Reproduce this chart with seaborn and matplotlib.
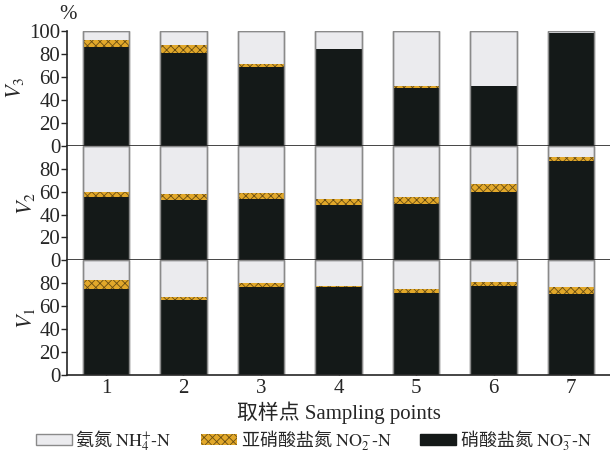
import matplotlib
matplotlib.use('Agg')
import matplotlib.pyplot as plt
from matplotlib.patches import Patch
import pandas as pd
import seaborn as sns

# sampling points
points = ['1', '2', '3', '4', '5', '6', '7']

# percentage of each nitrogen form (%)
v3_no3 = [86, 81, 69, 84, 50.5, 52, 98]
v3_no2 = [6, 6.5, 2.5, 0.3, 1.2, 0.3, 0.5]
v3_nh4 = [8, 12.5, 28.5, 15.7, 48.3, 47.7, 1.5]

v2_no3 = [55, 52.5, 53.5, 48, 49, 59.5, 86.5]
v2_no2 = [5, 5.5, 5.5, 5.5, 6, 7, 3.5]
v2_nh4 = [40, 42, 41, 46.5, 45, 33.5, 10]

v1_no3 = [75.5, 65.5, 76.5, 77, 71.5, 78, 70.5]
v1_no2 = [7, 3, 3.5, 0.3, 3.5, 3, 6]
v1_nh4 = [17.5, 31.5, 20, 22.7, 25, 19, 23.5]

panels = [
    (r'$\mathit{V}_3$', v3_no3, v3_no2, v3_nh4),
    (r'$\mathit{V}_2$', v2_no3, v2_no2, v2_nh4),
    (r'$\mathit{V}_1$', v1_no3, v1_no2, v1_nh4),
]

labels = [r'氨氮 $\mathrm{NH_4^{+}}\text{-}\mathrm{N}$',
          r'亚硝酸盐氮 $\mathrm{NO_2^{-}}\text{-}\mathrm{N}$',
          r'硝酸盐氮 $\mathrm{NO_3^{-}}\text{-}\mathrm{N}$']
c_nh4 = '#ebebee'
c_no2 = '#e2a82a'
c_no3 = '#141918'
edge = '#8a8a8a'

sns.set_style('ticks')
plt.rcParams['font.family'] = ['Liberation Serif', 'Noto Sans CJK SC']
plt.rcParams['mathtext.fontset'] = 'stix'
plt.rcParams['hatch.linewidth'] = 0.6

fig, axes = plt.subplots(3, 1, figsize=(6.1, 4.62), dpi=100, sharex=True)
fig.subplots_adjust(left=0.11, right=1.0, top=0.933, bottom=0.188, hspace=0)

for i, (ax, (name, no3, no2, nh4)) in enumerate(zip(axes, panels)):
    df = pd.DataFrame({'point': points, 'NO3': no3, 'NO2': no2, 'NH4': nh4})
    df['top_no2'] = df['NO3'] + df['NO2']
    df['total'] = df['top_no2'] + df['NH4']
    sns.barplot(data=df, x='point', y='total', color=c_nh4, saturation=1,
                width=0.6, edgecolor=edge, linewidth=1.0, ax=ax)
    sns.barplot(data=df, x='point', y='top_no2', color=c_no2, saturation=1,
                width=0.6, edgecolor='#6b4e12', linewidth=0, hatch='xxxx', ax=ax)
    sns.barplot(data=df, x='point', y='NO3', color=c_no3, saturation=1,
                width=0.6, edgecolor=c_no3, linewidth=0, ax=ax)
    # outline over the whole bar
    sns.barplot(data=df, x='point', y='total', fill=False, width=0.6,
                edgecolor=edge, linewidth=1.0, ax=ax)

    ax.set_xlim(-0.5, 6.5)
    ax.set_ylim(0, 100)
    ax.set_xlabel('')
    ax.set_ylabel(name, fontsize=16, labelpad=2)
    if i == 0:
        ax.set_yticks([0, 20, 40, 60, 80, 100])
    else:
        ax.set_yticks([0, 20, 40, 60, 80])
    ax.tick_params(axis='y', direction='out', length=4, width=1, labelsize=15, pad=1)
    sns.despine(ax=ax, top=True, right=True)
    ax.spines['left'].set_linewidth(1.2)
    ax.spines['bottom'].set_linewidth(1.2)
    if i < 2:
        ax.tick_params(axis='x', bottom=False, labelbottom=False)

axes[2].set_xticks(range(len(points)))
axes[2].set_xticklabels(points)
axes[2].tick_params(axis='x', direction='in', length=7, width=1, labelsize=15, pad=3)
axes[2].set_xlabel('取样点 Sampling points', fontsize=15, labelpad=2)

fig.text(0.111, 0.968, '%', fontsize=15, ha='center', va='center')

handles = [
    Patch(facecolor=c_nh4, edgecolor=edge, linewidth=1.0),
    Patch(facecolor=c_no2, edgecolor='#6b4e12', linewidth=0, hatch='xxxx'),
    Patch(facecolor=c_no3, edgecolor=c_no3),
]
fig.legend(handles, labels, loc='center', bbox_to_anchor=(0.515, 0.047), ncol=3,
           frameon=False, prop={'family': 'Noto Sans CJK SC', 'size': 13},
           handlelength=2.0, handleheight=0.55,
           handletextpad=0.2, columnspacing=1.6, borderaxespad=0)

fig.savefig('out.png', dpi=100)
